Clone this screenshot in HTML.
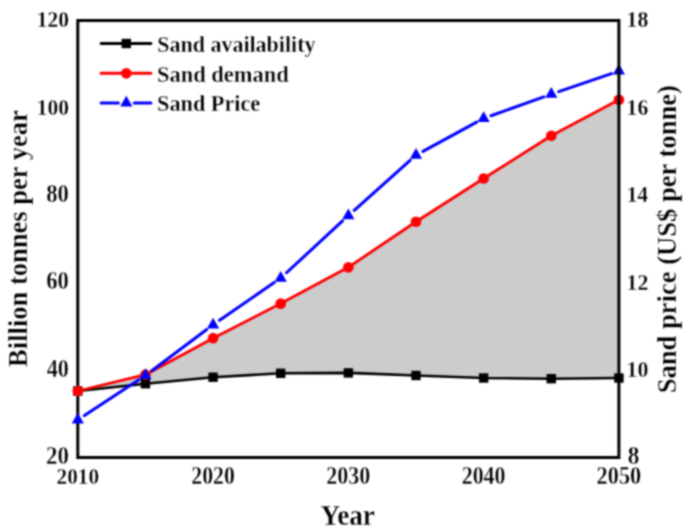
<!DOCTYPE html>
<html><head><meta charset="utf-8"><style>
html,body{margin:0;padding:0;background:#fff;}
svg{display:block;}
text{font-family:"Liberation Serif",serif;font-weight:bold;}
</style></head><body>
<svg width="685" height="532" viewBox="0 0 685 532">
<defs><filter id="sf" x="0" y="0" width="685" height="532" filterUnits="userSpaceOnUse" color-interpolation-filters="sRGB"><feConvolveMatrix order="5" kernelMatrix="0.0005 0.0050 0.0109 0.0050 0.0005 0.0050 0.0522 0.1141 0.0522 0.0050 0.0109 0.1141 0.2491 0.1141 0.0109 0.0050 0.0522 0.1141 0.0522 0.0050 0.0005 0.0050 0.0109 0.0050 0.0005" edgeMode="duplicate"/></filter></defs>
<g filter="url(#sf)">
<rect width="685" height="532" fill="#fff"/>
<polygon points="77.80,391.00 145.44,374.70 213.07,338.20 280.71,303.60 348.35,267.30 415.99,221.75 483.62,178.50 551.26,135.75 618.90,99.75 618.90,378.00 551.26,378.70 483.62,378.00 415.99,375.50 348.35,372.90 280.71,373.30 213.07,377.20 145.44,383.70 77.80,391.00" fill="#cccccc"/>
<path d="M77.8,20.6 V457.6 H618.9 M76.3,20.6 H618.9" stroke="#000" stroke-width="3" fill="none"/>
<polyline points="77.80,391.00 145.44,383.70 213.07,377.20 280.71,373.30 348.35,372.90 415.99,375.50 483.62,378.00 551.26,378.70 618.90,378.00" fill="none" stroke="#000" stroke-width="2.6" stroke-linejoin="round"/>
<polyline points="77.80,391.00 145.44,374.70 213.07,338.20 280.71,303.60 348.35,267.30 415.99,221.75 483.62,178.50 551.26,135.75 618.90,99.75" fill="none" stroke="#ff0000" stroke-width="2.8" stroke-linejoin="round"/>
<path d="M84.40,415.56 L138.83,379.84 M151.76,370.76 L206.75,329.54 M219.58,320.31 L274.21,282.59 M286.51,272.74 L342.55,220.96 M354.24,210.33 L410.10,160.37 M422.93,151.33 L476.68,122.17 M491.06,115.74 L543.82,96.86 M558.74,91.64 L611.43,73.56" fill="none" stroke="#0000ff" stroke-width="3" stroke-linecap="round"/>
<rect x="73.10" y="386.30" width="9.4" height="9.4" fill="#000"/>
<rect x="140.74" y="379.00" width="9.4" height="9.4" fill="#000"/>
<rect x="208.38" y="372.50" width="9.4" height="9.4" fill="#000"/>
<rect x="276.01" y="368.60" width="9.4" height="9.4" fill="#000"/>
<rect x="343.65" y="368.20" width="9.4" height="9.4" fill="#000"/>
<rect x="411.29" y="370.80" width="9.4" height="9.4" fill="#000"/>
<rect x="478.93" y="373.30" width="9.4" height="9.4" fill="#000"/>
<rect x="546.56" y="374.00" width="9.4" height="9.4" fill="#000"/>
<rect x="614.20" y="373.30" width="9.4" height="9.4" fill="#000"/>
<circle cx="77.80" cy="391.00" r="5.35" fill="#ff0000"/>
<circle cx="145.44" cy="374.70" r="5.35" fill="#ff0000"/>
<circle cx="213.07" cy="338.20" r="5.35" fill="#ff0000"/>
<circle cx="280.71" cy="303.60" r="5.35" fill="#ff0000"/>
<circle cx="348.35" cy="267.30" r="5.35" fill="#ff0000"/>
<circle cx="415.99" cy="221.75" r="5.35" fill="#ff0000"/>
<circle cx="483.62" cy="178.50" r="5.35" fill="#ff0000"/>
<circle cx="551.26" cy="135.75" r="5.35" fill="#ff0000"/>
<circle cx="618.90" cy="99.75" r="5.35" fill="#ff0000"/>
<path d="M77.80,412.73 L83.90,423.48 L71.70,423.48 Z" fill="#0000ff"/>
<path d="M145.44,368.33 L151.54,379.08 L139.34,379.08 Z" fill="#0000ff"/>
<path d="M213.07,317.63 L219.17,328.38 L206.97,328.38 Z" fill="#0000ff"/>
<path d="M280.71,270.93 L286.81,281.68 L274.61,281.68 Z" fill="#0000ff"/>
<path d="M348.35,208.43 L354.45,219.18 L342.25,219.18 Z" fill="#0000ff"/>
<path d="M415.99,147.93 L422.09,158.68 L409.89,158.68 Z" fill="#0000ff"/>
<path d="M483.62,111.23 L489.73,121.98 L477.52,121.98 Z" fill="#0000ff"/>
<path d="M551.26,87.03 L557.36,97.78 L545.16,97.78 Z" fill="#0000ff"/>
<path d="M618.90,63.83 L625.00,74.58 L612.80,74.58 Z" fill="#0000ff"/>
<path d="M618.9,19.1 V459.1" stroke="#000" stroke-width="3" fill="none"/>
<line x1="101.1" y1="43.5" x2="150.9" y2="43.5" stroke="#000" stroke-width="3" stroke-linecap="round"/>
<rect x="121.6" y="38.8" width="9.4" height="9.4" fill="#000"/>
<line x1="101.1" y1="73.3" x2="150.9" y2="73.3" stroke="#ff0000" stroke-width="3" stroke-linecap="round"/>
<circle cx="126.3" cy="73.3" r="5.35" fill="#ff0000"/>
<path d="M101.1,102.9 H118.39999999999999 M134.2,102.9 H150.9" stroke="#0000ff" stroke-width="3" stroke-linecap="round"/>
<path d="M126.3,95.73333333333333 L132.4,106.48333333333333 L120.2,106.48333333333333 Z" fill="#0000ff"/>
<text transform="matrix(0.22003 0 0 0.22899 157.250 51.650)" font-size="100" fill="#000" stroke="#fff" stroke-width="1.336">Sand availability</text>
<text transform="matrix(0.22483 0 0 0.22174 157.026 81.550)" font-size="100" fill="#000" stroke="#fff" stroke-width="1.344">Sand demand</text>
<text transform="matrix(0.22259 0 0 0.22174 157.037 111.050)" font-size="100" fill="#000" stroke="#fff" stroke-width="1.350">Sand Price</text>
<text transform="matrix(0.21522 0 0 0.23939 36.628 27.250)" font-size="100" fill="#000" stroke="#fff" stroke-width="1.320">120</text>
<text transform="matrix(0.21522 0 0 0.23939 36.628 114.650)" font-size="100" fill="#000" stroke="#fff" stroke-width="1.320">100</text>
<text transform="matrix(0.22688 0 0 0.24308 46.269 202.050)" font-size="100" fill="#000" stroke="#fff" stroke-width="1.277">80</text>
<text transform="matrix(0.22688 0 0 0.24308 46.269 289.450)" font-size="100" fill="#000" stroke="#fff" stroke-width="1.277">60</text>
<text transform="matrix(0.22211 0 0 0.24308 46.728 376.850)" font-size="100" fill="#000" stroke="#fff" stroke-width="1.290">40</text>
<text transform="matrix(0.22935 0 0 0.24308 46.033 464.250)" font-size="100" fill="#000" stroke="#fff" stroke-width="1.270">20</text>
<text transform="matrix(0.21685 0 0 0.23939 626.615 27.450)" font-size="100" fill="#000" stroke="#fff" stroke-width="1.315">18</text>
<text transform="matrix(0.21685 0 0 0.23939 626.615 114.850)" font-size="100" fill="#000" stroke="#fff" stroke-width="1.315">16</text>
<text transform="matrix(0.21444 0 0 0.23939 626.634 202.250)" font-size="100" fill="#000" stroke="#fff" stroke-width="1.322">14</text>
<text transform="matrix(0.21932 0 0 0.23939 626.595 289.650)" font-size="100" fill="#000" stroke="#fff" stroke-width="1.308">12</text>
<text transform="matrix(0.21932 0 0 0.23939 626.595 377.050)" font-size="100" fill="#000" stroke="#fff" stroke-width="1.308">10</text>
<text transform="matrix(0.23182 0 0 0.24308 627.655 464.450)" font-size="100" fill="#000" stroke="#fff" stroke-width="1.263">8</text>
<text transform="matrix(0.21250 0 0 0.24091 56.550 484.050)" font-size="100" fill="#000" stroke="#fff" stroke-width="1.323">2010</text>
<text transform="matrix(0.21771 0 0 0.24462 191.304 484.050)" font-size="100" fill="#000" stroke="#fff" stroke-width="1.298">2020</text>
<text transform="matrix(0.22031 0 0 0.24462 326.319 484.050)" font-size="100" fill="#000" stroke="#fff" stroke-width="1.291">2030</text>
<text transform="matrix(0.21927 0 0 0.24462 461.698 484.050)" font-size="100" fill="#000" stroke="#fff" stroke-width="1.293">2040</text>
<text transform="matrix(0.22292 0 0 0.24462 596.608 484.050)" font-size="100" fill="#000" stroke="#fff" stroke-width="1.283">2050</text>
<text transform="matrix(0.27143 0 0 0.29077 320.607 525.150)" font-size="100" fill="#000" stroke="#fff" stroke-width="1.067">Year</text>
<text transform="matrix(0 -0.26552 0.26522 0 27.150 366.881)" font-size="100" fill="#000" stroke="#fff" stroke-width="1.130">Billion tonnes per year</text>
<text transform="matrix(0 -0.26591 0.26806 0 676.150 393.280)" font-size="100" fill="#000" stroke="#fff" stroke-width="1.124">Sand price (US$ per tonne)</text>
</g>
</svg>
</body></html>
